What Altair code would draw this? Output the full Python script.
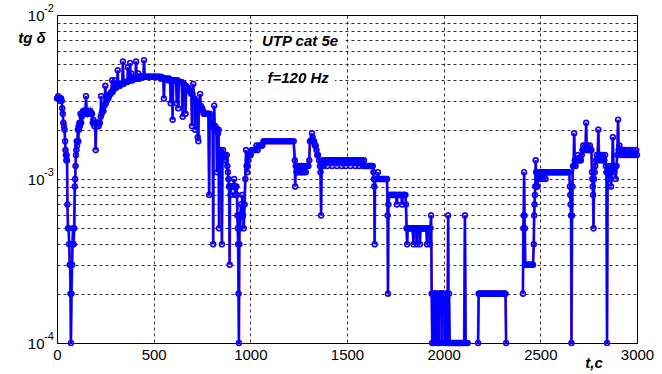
import altair as alt
import pandas as pd

FONT = "Liberation Sans"
BLUE = "#0000ff"
PURPLE = "#8030c0"

# tg δ readings (units of 1e-4) against time t, s; three recording runs
run1_t = [
    0, 3, 6, 9, 12, 15, 18, 21, 24, 27,
    30, 33, 36, 39, 42, 44, 46, 48, 50, 52,
    54, 57, 60, 63, 66, 68, 70, 72, 75, 78,
    80, 83, 86, 89, 92, 94, 96, 98, 100, 102,
    104, 106, 108, 110, 112, 114, 116, 118, 120, 122,
    125, 128, 131, 135, 139, 143, 147, 150, 153, 157,
    161, 165, 169, 173, 177, 181, 185, 188, 191, 194,
    197, 200, 203, 206, 209, 212, 215, 218, 222, 226,
    228, 231, 235, 240, 245, 250, 253, 257, 261, 265,
    269, 273, 277, 281, 285, 288, 292, 296, 300, 303,
    307, 311, 314, 317, 321, 325, 329, 333, 337, 341,
    344, 348, 352, 356, 360, 364, 367, 370, 374, 378,
    381, 384, 387, 391, 395, 399, 403, 406, 409, 412,
    416, 420, 423, 427, 431, 435, 439, 443, 447, 450,
    453, 457, 461, 465, 470, 475, 480, 485, 490, 495,
    500, 505, 510, 515, 520, 525, 530, 535, 540, 545,
    550, 553, 556, 560, 565, 570, 575, 580, 585, 588,
    591, 595, 598, 601, 605, 610, 615, 620, 623, 627,
    630, 635, 640, 645, 650, 653, 657, 661, 665, 668,
    672, 676, 680, 684, 688, 692, 695, 698, 701, 705,
    708, 711, 714, 717, 721, 725, 728, 731, 734, 737,
    740, 743, 747, 751, 755, 759, 763, 767, 771, 775,
    779, 783, 787, 790, 793, 796, 799, 802, 805, 808,
    810, 813, 816, 819, 822, 825, 827, 830, 833, 836,
    838, 841, 844, 847, 850, 853, 856, 859, 862, 866,
    870, 874, 878, 881, 884, 887, 890, 893, 895, 898,
    901, 904, 907, 910, 913, 916, 919, 922, 925, 928,
    931, 933, 935, 937, 939, 941, 943, 945, 947, 949,
    952, 955, 958, 962, 966, 970, 974, 978, 981, 984,
    987, 990, 994, 998, 1002, 1008, 1014, 1020, 1026, 1032,
    1038, 1044, 1050, 1056, 1062, 1068, 1074, 1080, 1088, 1096,
    1104, 1112, 1120, 1128, 1136, 1144, 1152, 1160, 1168, 1176,
    1184, 1192, 1200, 1208, 1216, 1224, 1230, 1232, 1235, 1239,
    1243, 1247, 1251, 1255, 1259, 1263, 1267, 1271, 1275, 1279,
    1283, 1287, 1291, 1296, 1300, 1305, 1308, 1312, 1316, 1319,
    1322, 1326, 1330, 1334, 1338, 1342, 1346, 1350, 1355, 1360,
    1363, 1366, 1369, 1373, 1378, 1383, 1388, 1393, 1398, 1403,
    1408, 1413, 1418, 1423, 1428, 1433, 1438, 1443, 1448, 1453,
    1458, 1463, 1468, 1473, 1478, 1483, 1488, 1493, 1498, 1503,
    1508, 1513, 1518, 1523, 1528, 1533, 1538, 1543, 1548, 1553,
    1558, 1563, 1568, 1573, 1578, 1583, 1588, 1593, 1598, 1603,
    1608, 1613, 1618, 1623, 1628, 1633, 1637, 1639, 1641, 1643,
    1645, 1648, 1652, 1656, 1660, 1663, 1667, 1671, 1675, 1679,
    1683, 1687, 1691, 1695, 1699, 1703, 1707, 1710, 1712, 1714,
    1718, 1723, 1728, 1733, 1738, 1743, 1748, 1753, 1758, 1761,
    1766, 1771, 1776, 1781, 1785, 1788, 1793, 1798, 1802, 1805,
    1808, 1811, 1814, 1819, 1824, 1829, 1834, 1839, 1844, 1847,
    1852, 1857, 1861, 1864, 1869, 1873, 1877, 1880, 1885, 1890,
    1895, 1900, 1905, 1910, 1914, 1917, 1921, 1925, 1929, 1932,
    1935, 1938, 1941, 1944, 1947, 1950, 1953, 1957, 1961, 1964,
    1968, 1972, 1975, 1978, 1982, 1986, 1990, 1993, 1997, 2001,
    2005, 2008, 2012, 2016, 2020, 2023, 2026, 2028, 2031, 2036,
    2041, 2046, 2051, 2056, 2061, 2066, 2071, 2076, 2081, 2086,
    2091, 2096, 2101, 2106, 2110, 2114, 2119, 2124,
]
run1_v = [
    31, 31, 32, 31, 31, 30, 31, 31, 30, 27,
    25, 22, 21, 20, 17, 15, 14, 13, 14, 13,
    7, 5, 5, 4, 3, 3, 2, 1, 2, 3,
    4, 5, 4, 5, 9, 10, 12, 14, 15, 17,
    16, 17, 20, 17, 21, 20, 22, 21, 22, 25,
    22, 24, 25, 26, 25, 26, 25, 32, 26, 25,
    26, 25, 25, 26, 25, 25, 22, 23, 22, 21,
    22, 15, 22, 21, 22, 22, 21, 22, 22, 24,
    32, 25, 26, 26, 28, 37, 29, 30, 31, 31,
    32, 33, 33, 34, 40, 34, 35, 36, 40, 36,
    36, 37, 46, 37, 37, 37, 38, 38, 38, 52,
    38, 39, 39, 39, 39, 39, 48, 40, 40, 51,
    40, 44, 40, 40, 41, 41, 41, 41, 52, 41,
    41, 44, 41, 41, 42, 42, 42, 42, 42, 53,
    42, 42, 42, 42, 42, 42, 42, 42, 42, 42,
    42, 42, 42, 42, 42, 42, 42, 41, 42, 41,
    41, 31, 41, 41, 41, 41, 40, 41, 40, 29,
    40, 40, 23, 40, 40, 40, 40, 29, 40, 27,
    39, 39, 39, 39, 24, 38, 38, 37, 25, 37,
    36, 36, 35, 35, 34, 34, 33, 21, 33, 38,
    31, 31, 20, 30, 30, 29, 18, 17, 29, 28,
    33, 28, 27, 27, 26, 25, 25, 25, 25, 25,
    25, 25, 8, 25, 24, 22, 22, 21, 22, 4,
    21, 28, 20, 21, 20, 20, 11, 20, 19, 20,
    5, 15, 14, 15, 14, 4, 14, 15, 14, 13,
    14, 13, 14, 12, 11, 10, 9, 3, 9, 8,
    9, 9, 9, 9, 9, 10, 9, 8, 9, 9,
    8, 6, 5, 4, 2, 1, 4, 6, 5, 6,
    7, 6, 8, 6, 5, 7, 10, 15, 12, 11,
    12, 13, 14, 14, 14, 15, 15, 15, 15, 16,
    15, 16, 16, 16, 16, 17, 17, 17, 17, 17,
    17, 17, 17, 17, 17, 17, 17, 17, 17, 17,
    17, 17, 17, 17, 17, 17, 13, 9, 12, 11,
    12, 11, 12, 11, 12, 11, 12, 11, 12, 11,
    12, 11, 12, 12, 12, 13, 17, 17, 17, 19,
    18, 17, 17, 16, 16, 15, 14, 14, 13, 12,
    11, 6, 12, 13, 12, 13, 13, 13, 12, 13,
    13, 13, 13, 12, 13, 13, 13, 13, 12, 13,
    13, 13, 13, 12, 13, 13, 13, 12, 13, 13,
    13, 13, 12, 13, 13, 13, 13, 12, 13, 13,
    13, 12, 13, 13, 13, 12, 13, 12, 12, 12,
    12, 12, 12, 12, 12, 12, 11, 10, 9, 4,
    10, 10, 10, 10, 11, 10, 10, 10, 10, 10,
    10, 10, 10, 10, 10, 10, 10, 6, 2, 7,
    8, 8, 8, 8, 8, 8, 8, 8, 7, 8,
    8, 8, 8, 8, 7, 8, 8, 8, 8, 7,
    5, 4, 5, 5, 5, 5, 5, 5, 4, 5,
    5, 5, 4, 5, 5, 5, 4, 5, 5, 5,
    5, 5, 5, 5, 4, 5, 5, 5, 4, 5,
    6, 2, 1, 2, 2, 1, 2, 2, 1, 2,
    2, 1, 1, 2, 2, 2, 1, 2, 2, 2,
    1, 1, 2, 2, 1, 6, 1, 2, 1, 1,
    1, 1, 1, 1, 1, 1, 1, 1, 1, 1,
    1, 1, 1, 1, 6, 1, 1, 1,
]

run2_t = [
    2178, 2181, 2186, 2191, 2196, 2201, 2206, 2211, 2216, 2221,
    2226, 2231, 2236, 2241, 2246, 2251, 2256, 2261, 2266, 2271,
    2276, 2281, 2286, 2291, 2296, 2301, 2306, 2311, 2316, 2320,
    2323,
]
run2_v = [
    1, 2, 2, 2, 2, 2, 2, 2, 2, 2,
    2, 2, 2, 2, 2, 2, 2, 2, 2, 2,
    2, 2, 2, 2, 2, 2, 2, 2, 2, 2,
    1,
]

run3_t = [
    2410, 2412, 2414, 2416, 2418, 2420, 2422, 2426, 2430, 2434,
    2438, 2442, 2446, 2450, 2454, 2458, 2462, 2466, 2468, 2470,
    2472, 2474, 2476, 2478, 2480, 2483, 2486, 2489, 2492, 2495,
    2499, 2503, 2507, 2511, 2515, 2519, 2523, 2527, 2531, 2535,
    2540, 2545, 2550, 2555, 2560, 2565, 2570, 2575, 2580, 2585,
    2590, 2595, 2600, 2605, 2610, 2615, 2620, 2625, 2630, 2635,
    2640, 2645, 2650, 2653, 2655, 2657, 2659, 2661, 2664, 2666,
    2669, 2672, 2675, 2678, 2682, 2686, 2690, 2694, 2698, 2702,
    2706, 2710, 2714, 2718, 2722, 2726, 2730, 2734, 2737, 2740,
    2744, 2748, 2752, 2756, 2760, 2764, 2767, 2769, 2771, 2773,
    2775, 2778, 2781, 2784, 2788, 2792, 2796, 2800, 2803, 2807,
    2811, 2815, 2819, 2823, 2827, 2831, 2835, 2839, 2842, 2845,
    2848, 2851, 2855, 2859, 2863, 2866, 2869, 2872, 2875, 2878,
    2882, 2886, 2890, 2894, 2898, 2902, 2905, 2909, 2913, 2917,
    2921, 2925, 2929, 2933, 2937, 2941, 2946, 2951, 2956, 2961,
    2966, 2971, 2976, 2981, 2986, 2991, 2996, 3000,
]
run3_v = [
    2, 5, 6, 11, 6, 5, 3, 3, 3, 3,
    3, 3, 3, 3, 3, 3, 3, 4, 6, 7,
    8, 9, 13, 11, 9, 10, 9, 11, 10, 11,
    11, 10, 11, 11, 10, 11, 11, 10, 11, 11,
    11, 11, 11, 11, 11, 11, 11, 11, 11, 11,
    11, 11, 11, 11, 11, 11, 11, 11, 11, 11,
    11, 11, 11, 9, 8, 7, 6, 1, 6, 9,
    12, 12, 19, 13, 12, 13, 13, 14, 13, 13,
    13, 13, 14, 15, 16, 15, 15, 16, 22, 15,
    16, 15, 15, 16, 15, 15, 11, 10, 9, 8,
    5, 10, 11, 12, 13, 14, 13, 20, 14, 13,
    14, 14, 13, 14, 13, 13, 14, 12, 11, 1,
    11, 10, 12, 11, 10, 9, 11, 12, 18, 12,
    11, 12, 10, 12, 14, 23, 15, 16, 15, 14,
    15, 14, 15, 14, 15, 14, 14, 15, 14, 14,
    15, 14, 14, 15, 14, 14, 15, 14,
]

# decade labels of the log axis
decades = [1e-4, 1e-3, 1e-2]
exponents = ["-4", "-3", "-2"]
x_ticks = [0, 500, 1000, 1500, 2000, 2500, 3000]
y_grid = [m * 10.0 ** e for e in (-4, -3) for m in range(1, 10)] + [1e-2]

frames = []
for run_id, (ts, vs) in enumerate([(run1_t, run1_v), (run2_t, run2_v), (run3_t, run3_v)]):
    assert len(ts) == len(vs), (run_id, len(ts), len(vs))
    frames.append(pd.DataFrame({"t": ts, "tg": [v * 1e-4 for v in vs], "run": run_id}))
df = pd.concat(frames, ignore_index=True)

x_scale = alt.Scale(domain=[0, 3000], nice=False, zero=False)
y_scale = alt.Scale(type="log", domain=[1e-4, 1e-2], nice=False)

x_axis = alt.Axis(
    values=x_ticks, format="d", title=None, grid=True, gridColor="#000000",
    gridDash=[3, 3], gridWidth=0.8, gridOpacity=1, ticks=False, labelPadding=4,
    labelFont=FONT, labelFontSize=15, labelColor="#000000", domainColor="#000000",
    labelFlush=False, labelOverlap=False,
)
y_axis = alt.Axis(
    values=y_grid, title=None, grid=True, gridColor="#000000", gridDash=[3, 3],
    gridWidth=0.8, gridOpacity=1, ticks=False, labelPadding=13,
    labelExpr="(datum.value == 0.01 || datum.value == 0.001 || datum.value == 0.0001) ? '10' : ''",
    labelFont=FONT, labelFontSize=15, labelColor="#000000", domainColor="#000000",
    labelFlush=False, labelOverlap=False, labelBaseline="middle",
)


def xenc(field="t"):
    return alt.X(f"{field}:Q", scale=x_scale, axis=x_axis)


def yenc(field="tg"):
    return alt.Y(f"{field}:Q", scale=y_scale, axis=y_axis)


base = alt.Chart(df).encode(x=xenc(), y=yenc(), detail="run:N")

# purple trace underneath, blue trace with open circle markers on top
purple_line = base.mark_line(color=PURPLE, strokeWidth=2.8)
purple_rings = base.mark_point(shape="circle", filled=False, color=PURPLE, size=24, strokeWidth=1.6, opacity=1)
blue_line = base.mark_line(color=BLUE, strokeWidth=2.0)
blue_rings = base.mark_point(shape="circle", filled=False, color=BLUE, size=24, strokeWidth=1.2, opacity=1)

exp_df = pd.DataFrame({"tg": decades, "e": exponents})
exp_text = alt.Chart(exp_df).mark_text(
    align="left", baseline="middle", dy=-6, font=FONT, fontSize=11, color="#000000"
).encode(x=alt.value(-13), y=yenc(), text="e:N")

# annotation boxes and captions inside the plot
box_df = pd.DataFrame({
    "t": [1024, 1066], "t2": [1490, 1438],
    "tg": [0.00787, 0.00469], "tg2": [0.00612, 0.00364],
})
boxes = alt.Chart(box_df).mark_rect(color="white").encode(
    x=xenc(), x2="t2:Q", y=yenc(), y2="tg2:Q",
)
note_df = pd.DataFrame({"t": [1257, 1247], "tg": [0.00694, 0.00413], "label": ["UTP cat 5e", "f=120 Hz"]})
notes = alt.Chart(note_df).mark_text(
    font=FONT, fontSize=15, fontStyle="italic", fontWeight="bold", color="#000000",
    align="center", baseline="middle",
).encode(x=xenc(), y=yenc(), text="label:N")

y_title = alt.Chart(pd.DataFrame({"s": ["tg δ"]})).mark_text(
    font=FONT, fontSize=15, fontStyle="italic", fontWeight="bold", color="#000000",
    align="center", baseline="middle",
).encode(x=alt.value(-25), y=alt.value(23), text="s:N")
x_title = alt.Chart(pd.DataFrame({"s": ["t,c"]})).mark_text(
    font=FONT, fontSize=15, fontStyle="italic", fontWeight="bold", color="#000000",
    align="center", baseline="middle",
).encode(x=alt.value(537), y=alt.value(348), text="s:N")

chart = alt.layer(
    purple_line, purple_rings, blue_line, blue_rings,
    boxes, notes, exp_text, y_title, x_title,
).properties(
    width=580, height=328,
    padding={"left": 57, "top": 15, "right": 25, "bottom": 31},
    autosize=alt.AutoSizeParams(type="none"),
    background="white",
).configure_view(stroke="#000000", strokeWidth=1)

chart.save("out.html", embed_options={"renderer": "svg", "actions": False})
